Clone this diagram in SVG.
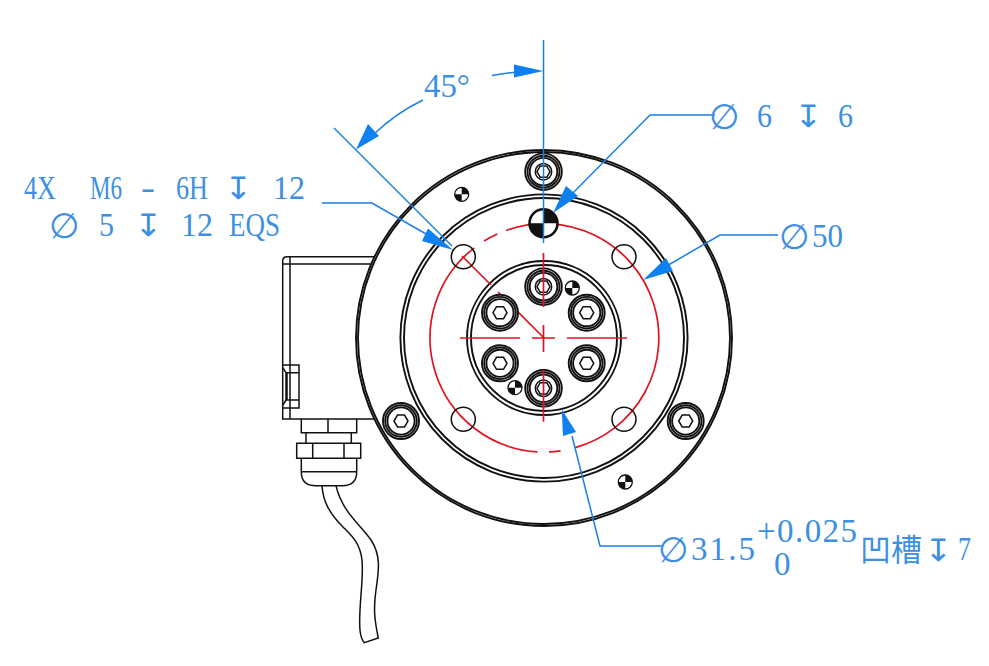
<svg xmlns="http://www.w3.org/2000/svg" width="989" height="666" viewBox="0 0 989 666">
<style>
.k{fill:none;stroke:#111;stroke-width:1.5}
.w{fill:#fff;stroke:#111;stroke-width:1.9}
.t{fill:none;stroke:#111;stroke-width:1.9}
.r{fill:none;stroke:#e01420;stroke-width:1.7}
.b{fill:none;stroke:#1a7fe6;stroke-width:1.5}
.h{fill:#0f80f0;stroke:none}
text{fill:#3c8fe2;font-family:"Liberation Serif","Noto Sans CJK SC","DejaVu Sans",serif;font-size:33px}
.d{font-family:"DejaVu Sans",sans-serif;font-size:24px}
.o{font-family:"DejaVu Sans",sans-serif;font-size:35px}
.c{font-family:"Noto Sans CJK SC",sans-serif;font-size:31px}
</style>
<defs>
<g id="screw">
<circle r="18" class="w"/><circle r="15.800" class="t"/><circle r="13.600" class="t"/>
<path d="M-7 0L-3.500-6H3.500L7 0L3.500 6H-3.500Z" class="k"/>
</g>
<g id="bolt">
<circle r="18.300" class="w"/><circle r="16" class="t"/><circle r="13.800" class="t"/>
<circle r="8.200" class="k"/><path d="M-6.500 0L-3.300-5.600H3.300L6.500 0L3.300 5.600H-3.300Z" class="k"/>
</g>
<g id="mark">
<circle r="7" fill="#fff" stroke="#111" stroke-width="1.300"/>
<path d="M0 0V-7A7 7 0 0 1 7 0ZM0 0V7A7 7 0 0 1-7 0Z" fill="#111"/>
</g>
</defs>
<rect width="989" height="666" fill="#fff"/>

<g id="housing">
<path class="k" d="M374 256.700H287Q282.700 256.700 282.700 261V419H374M283 264H374M290 256.700V419"/>
<path class="k" d="M283 365H299V408H283M286 372.700H299V400H286ZM283 368L286 372.700M283 405L286 400M287 373V400"/>
</g>
<g id="cable-gland">
<path class="k" d="M301.300 419V432.700H356.700V419M328 419V432.700M306 432.700V443.300M351.300 432.700V443.300"/>
<path class="k" d="M296.700 443.300H360.700V458.300H296.700ZM312.700 443.300V458.300M344 443.300V458.300"/>
<path class="k" d="M301.300 458.300V472Q301.300 485.700 316 485.700H342Q356.700 485.700 356.700 472V458.300M301.300 471.700H356.700"/>
</g>
<g id="cable">
<path class="k" d="M322 485.700C323 500 328 512 343 527C352 536 360 543 362 560C364 580 358 610 360 630C360.500 636 362 640 364.300 642.700L378.300 638C375 622 373 610 376 590C379 570 381 555 371 540C360 524 342 512 336 485.700"/>
</g>
<g id="flange">
<circle cx="544" cy="338" r="188" fill="#fff" stroke="#111" stroke-width="1.900"/>
<circle cx="544" cy="338" r="186" class="t"/>
<circle cx="544" cy="338" r="143.600" class="t"/>
<circle cx="544" cy="338" r="140" class="t"/>
</g>
<g id="hub">
<circle cx="544" cy="338" r="77" class="t"/>
<circle cx="544" cy="338" r="73" class="t"/>
</g>
<g id="centerlines">
<path class="r" d="M506.100 230.500A114 114 0 1 1 575.200 447.600"/>
<path class="r" d="M549 451.900A114 114 0 0 0 560.600 450.800"/>
<path class="r" d="M537.400 451.800A114 114 0 0 1 474.300 247.800"/>
<path class="r" d="M497.300 234A114 114 0 0 0 484.100 241"/>
<path class="r" d="M460 338H520M532 338H555M567 338H627"/>
<path class="r" d="M544 338L498 292M491 285L462 256"/>
</g>
<g id="holes">
<circle cx="463.300" cy="256.700" r="12" class="k"/>
<circle cx="624" cy="256.700" r="12" class="k"/>
<circle cx="463.300" cy="419.300" r="12" class="k"/>
<circle cx="624" cy="419.300" r="12" class="k"/>
</g>
<g id="screws">
<use href="#bolt" x="543.500" y="171.700"/>
<use href="#screw" x="401" y="421"/>
<use href="#screw" x="685.700" y="421"/>
<use href="#bolt" x="543.500" y="286.700"/>
<use href="#screw" x="500" y="312.700"/>
<use href="#screw" x="586.700" y="312.700"/>
<use href="#screw" x="500" y="363.300"/>
<use href="#screw" x="586.700" y="363.300"/>
<use href="#bolt" x="543.500" y="388.300"/>
</g>
<g id="center-verticals">
<path class="r" d="M543.500 253V307M543.500 325V352M543.500 370V421.700"/>
</g>
<g id="datum-marks">
<use href="#mark" x="461.700" y="194.300"/>
<use href="#mark" x="572.300" y="288"/>
<use href="#mark" x="515" y="387.700"/>
<use href="#mark" x="625.300" y="482"/>
<g transform="translate(543.500 223.300) scale(2)"><use href="#mark"/></g>
</g>
<g id="connectors">
<path class="b" d="M543.500 40V243"/>
<path class="b" d="M334 128L452 246"/>
<path class="b" d="M374 134Q396 113 423 100"/>
<path class="b" d="M492 75.500Q505 73 518 72"/>
<path class="h" d="M356 149.500L368 124L379 136Z"/>
<path class="h" d="M543.500 71L514 64.500V77.500Z"/>
<path class="b" d="M322 203H372L440 242"/>
<path class="h" d="M453 250L428 228.500L422 241Z"/>
<path class="b" d="M715 115H650L570 196"/>
<path class="h" d="M553 213L566 186L578 196Z"/>
<path class="b" d="M778 235H720L665 267"/>
<path class="h" d="M643 280L666 258L673 271Z"/>
<path class="b" d="M662 546H600L572 436"/>
<path class="h" d="M561.700 409.300L563 436L576 432Z"/>
</g>
<g id="label-angle"><text x="424" y="97" textLength="46" lengthAdjust="spacingAndGlyphs">45°</text></g>
<g id="label-m6">
<text x="24" y="199" textLength="32" lengthAdjust="spacingAndGlyphs">4X</text><text x="90" y="199" textLength="32" lengthAdjust="spacingAndGlyphs">M6</text><text x="141" y="199" textLength="14" lengthAdjust="spacingAndGlyphs">-</text><text x="176" y="199" textLength="32" lengthAdjust="spacingAndGlyphs">6H</text><text class="d" transform="translate(224 199) scale(1.400 1.300)">↧</text><text x="273" y="199" textLength="32" lengthAdjust="spacingAndGlyphs">12</text>
<text class="o" x="49" y="238">∅</text><text x="99" y="236" textLength="15" lengthAdjust="spacingAndGlyphs">5</text><text class="d" transform="translate(134 236) scale(1.400 1.300)">↧</text><text x="181" y="236" textLength="32" lengthAdjust="spacingAndGlyphs">12</text><text x="229" y="236" textLength="51" lengthAdjust="spacingAndGlyphs">EQS</text>
</g>
<g id="label-pin"><text class="o" x="709" y="129">∅</text><text x="757" y="127" textLength="15" lengthAdjust="spacingAndGlyphs">6</text><text class="d" transform="translate(794 127) scale(1.400 1.300)">↧</text><text x="838" y="127" textLength="15" lengthAdjust="spacingAndGlyphs">6</text></g>
<g id="label-d50"><text class="o" x="779" y="249">∅</text><text x="812" y="247" textLength="31" lengthAdjust="spacingAndGlyphs">50</text></g>
<g id="label-recess">
<text class="o" x="658" y="562">∅</text><text x="691" y="560" textLength="64" lengthAdjust="spacing">31.5</text>
<text x="757" y="542" textLength="100" lengthAdjust="spacing">+0.025</text><text x="774" y="575">0</text>
<text class="c" x="860" y="561">凹槽</text><text class="d" transform="translate(924 561) scale(1.400 1.300)">↧</text><text x="958" y="560" textLength="13" lengthAdjust="spacingAndGlyphs">7</text>
</g>
</svg>
